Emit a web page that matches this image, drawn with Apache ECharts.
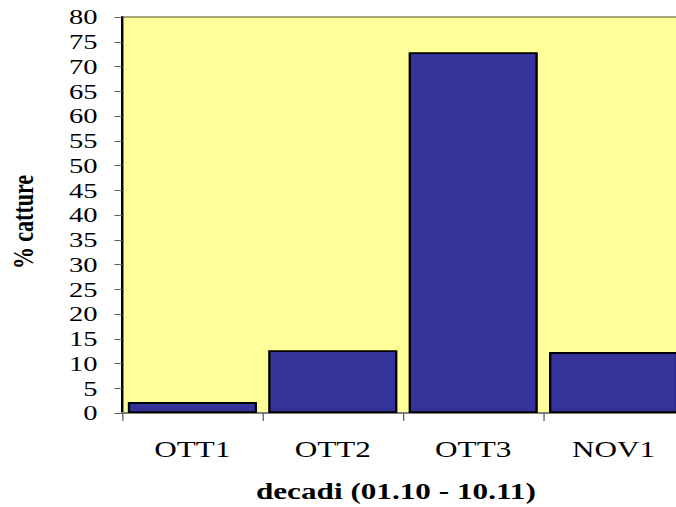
<!DOCTYPE html>
<html><head><meta charset="utf-8">
<script src="https://cdn.jsdelivr.net/npm/echarts@6/dist/echarts.min.js"></script>
<style>
html,body{margin:0;padding:0;background:#fff;overflow:hidden;width:676px;height:507px}
#c{width:520px;height:507px;transform:scaleX(1.3);transform-origin:0 0}
</style>
</head><body><div id="c"></div>
<script>
const categories = ['OTT1', 'OTT2', 'OTT3', 'NOV1'];
const catture = [2.2, 12.7, 72.9, 12.3];
const yTicks = {min: 0, max: 80, interval: 5};
const xTitle = 'decadi (01.10 - 10.11)';
const yTitle = '% catture';

const font = 'Liberation Serif';
const chart = echarts.init(document.getElementById('c'), null, {renderer: 'svg'});
chart.setOption({
  animation: false,
  grid: {left: 94, top: 17, width: 432, bottom: 94, show: true, outerBoundsMode: 'none', containLabel: false,
         backgroundColor: '#ffff99', borderColor: '#8a8a5c', borderWidth: 1.6},
  xAxis: {
    type: 'category', data: categories,
    name: xTitle, nameLocation: 'middle', nameGap: 66,
    nameTextStyle: {fontFamily: font, fontSize: 24, fontWeight: 'bold', color: '#000', padding: [0, 11, 0, 0]},
    axisLine: {show: true, lineStyle: {color: '#808080', width: 1.8}},
    axisTick: {show: true, length: 8, lineStyle: {color: '#606060', width: 1}},
    axisLabel: {fontFamily: font, fontSize: 24, color: '#000', margin: 24}
  },
  yAxis: {
    type: 'value', min: yTicks.min, max: yTicks.max, interval: yTicks.interval,
    name: yTitle, nameLocation: 'middle', nameGap: 65, nameRotate: 90,
    nameTextStyle: {fontFamily: font, fontSize: 22, fontWeight: 'bold', color: '#000', padding: [0, 14, 0, 0]},
    axisLine: {show: true, lineStyle: {color: '#000', width: 1.8}},
    axisTick: {show: true, length: 6, lineStyle: {color: '#606060', width: 1}},
    splitLine: {show: false},
    axisLabel: {fontFamily: font, fontSize: 22, color: '#000', margin: 19, lineHeight: 22}
  },
  series: [{
    type: 'bar', data: catture, barCategoryGap: '8%',
    itemStyle: {color: '#333399', borderColor: '#000', borderWidth: 1.8}
  }]
});
</script></body></html>
